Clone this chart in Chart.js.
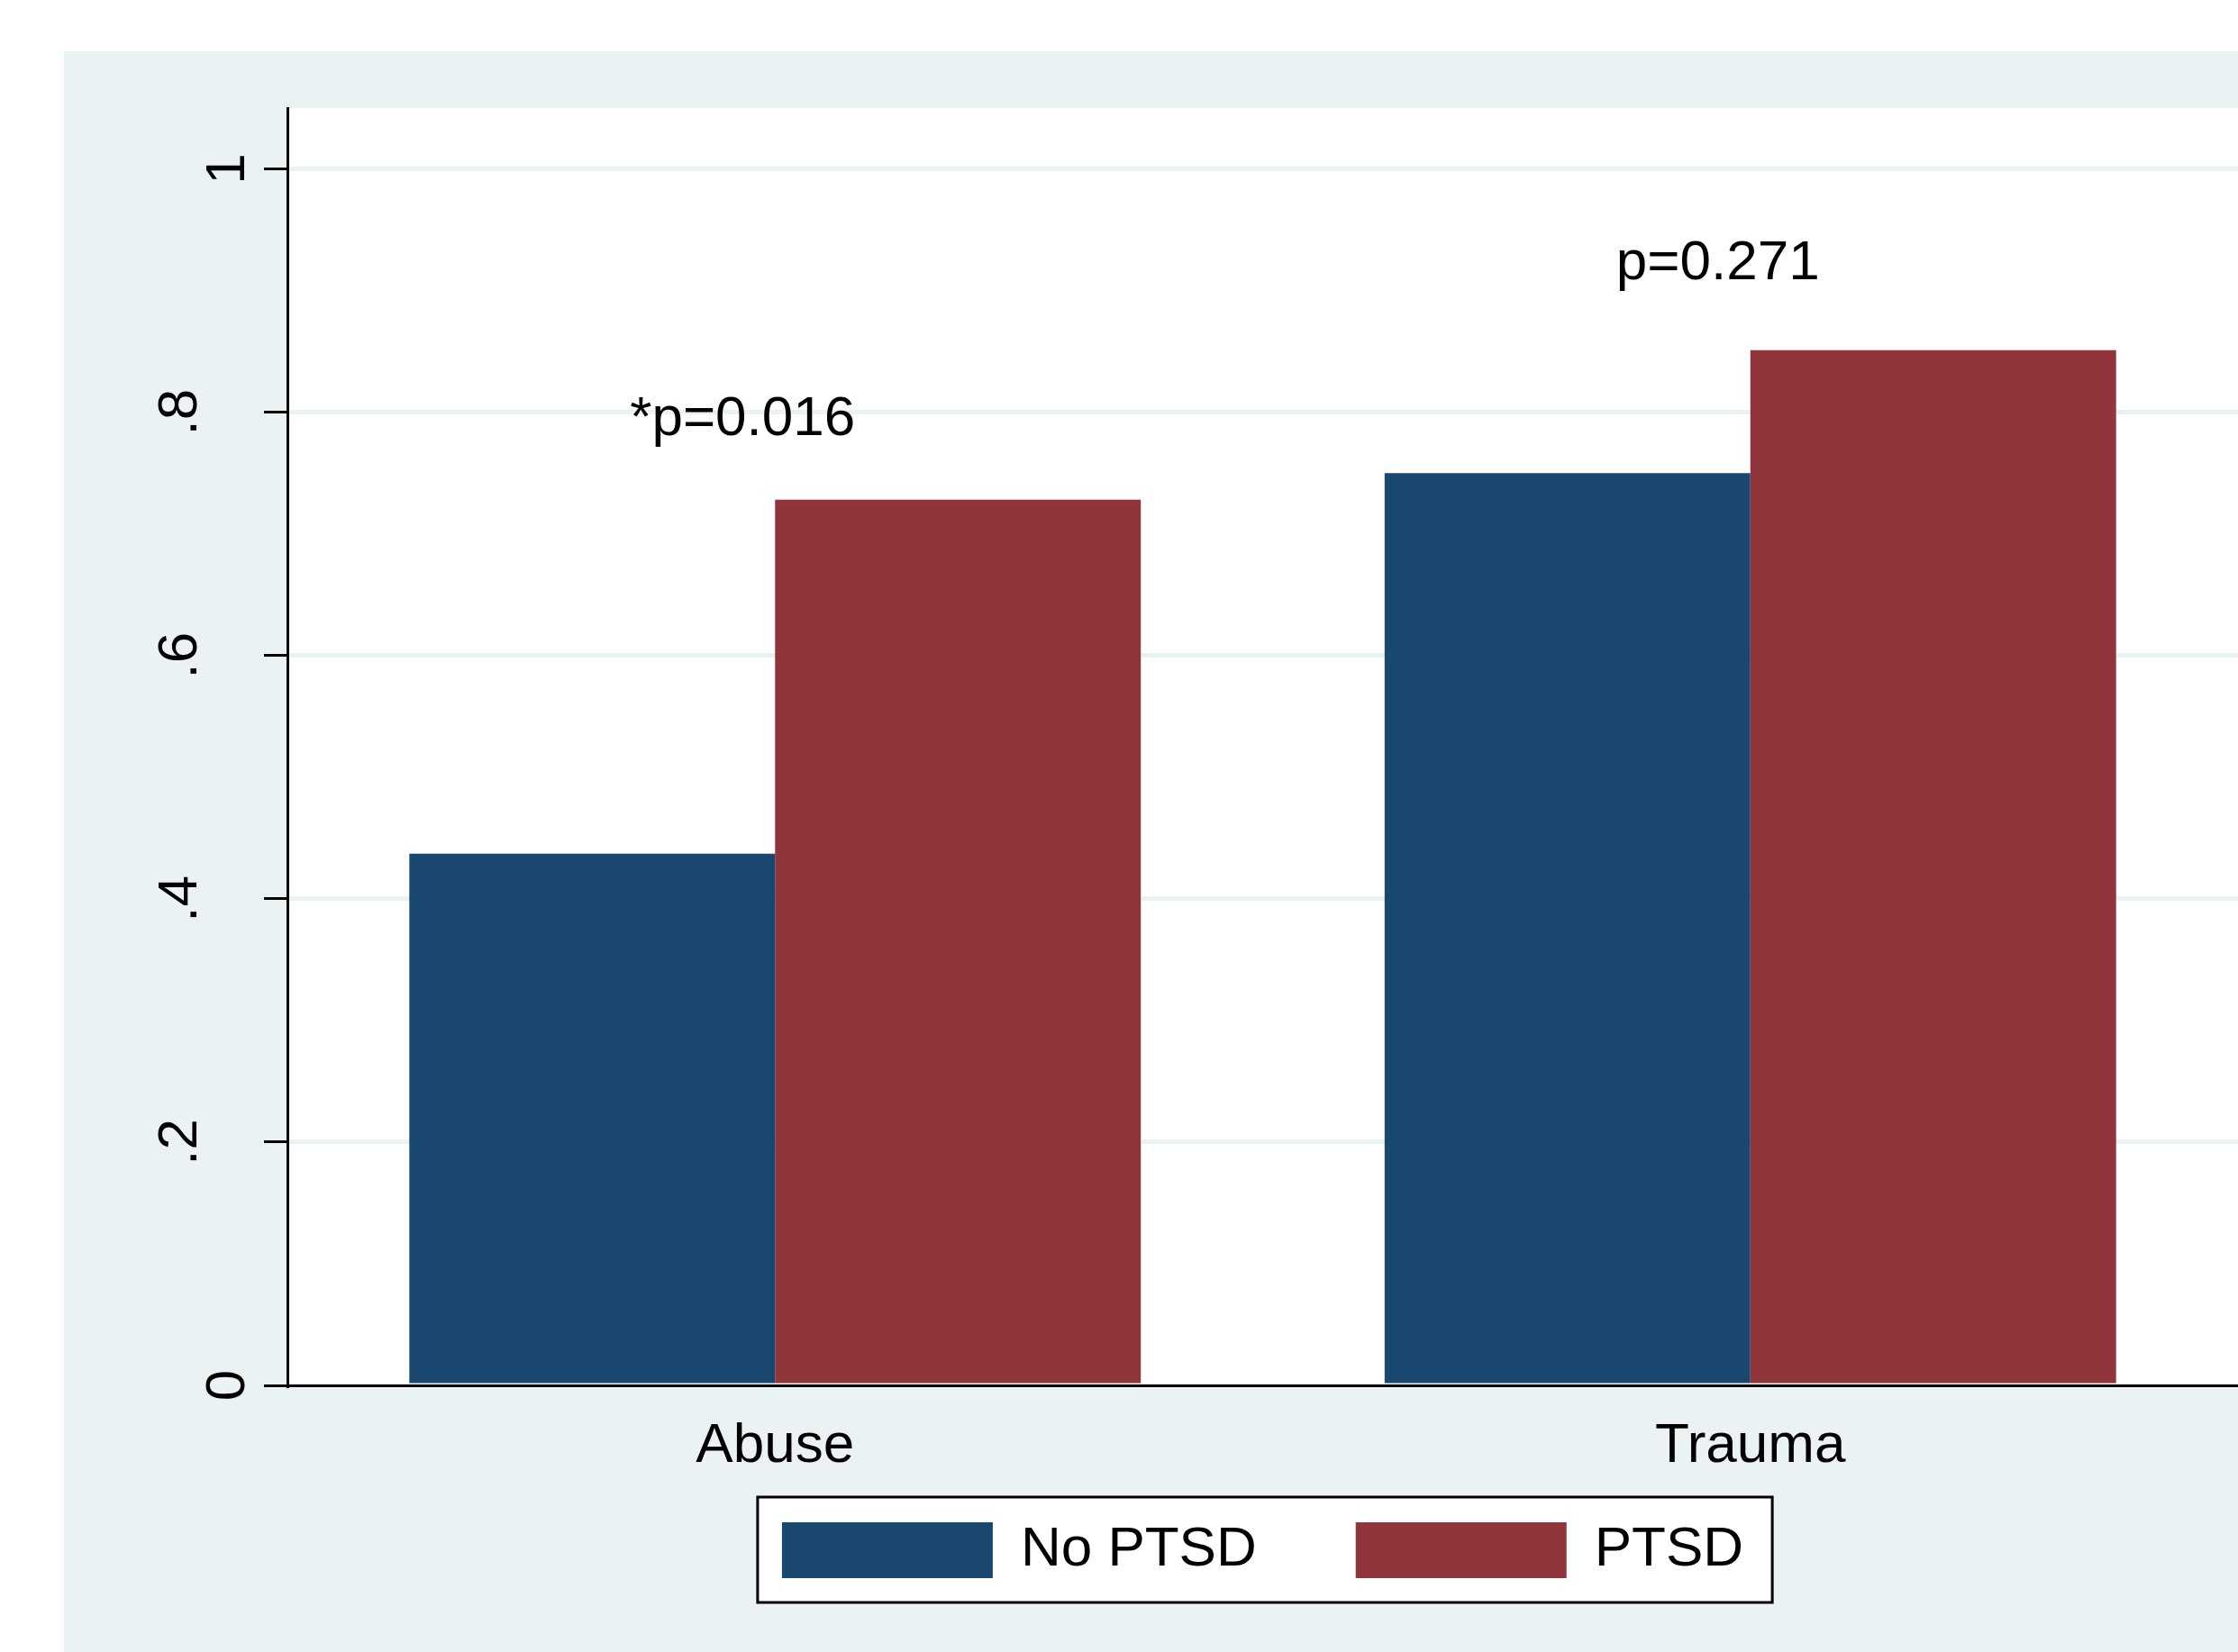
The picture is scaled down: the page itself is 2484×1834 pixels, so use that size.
<!DOCTYPE html>
<html>
<head>
<meta charset="utf-8">
<script src="https://cdn.jsdelivr.net/npm/chart.js@4.4.1/dist/chart.umd.min.js"></script>
<style>
  html, body { margin: 0; padding: 0; background: #fff; }
  #wrap { width: 2484px; height: 1834px; position: relative; }
</style>
</head>
<body>
<div id="wrap"><canvas id="chart"></canvas></div>
<script>
// data
const categories = ['Abuse', 'Trauma'];
const seriesNames = ['No PTSD', 'PTSD'];
const noPtsd = [0.437, 0.750];
const ptsd = [0.728, 0.851];
const yTicks = [0, 0.2, 0.4, 0.6, 0.8, 1];
const yTickLabels = ['0', '.2', '.4', '.6', '.8', '1'];
const pLabels = ['*p=0.016', 'p=0.271'];
const pLabelY = [0.781, 0.909];

const FONT = '"Liberation Sans", Arial, Helvetica, sans-serif';
const NAVY = '#1a476f', MAROON = '#90353b', PALE = '#eaf2f3';

// stata-ish backdrop: pale outer panel, white plot region, boxed legend
const backdrop = {
  id: 'backdrop',
  beforeDraw(chart) {
    const { ctx, width, height, chartArea: ca } = chart;
    ctx.save();
    ctx.fillStyle = '#fff';
    ctx.fillRect(0, 0, width, height);
    ctx.fillStyle = PALE;
    ctx.fillRect(71, 57, width - 71, height - 57);
    ctx.fillStyle = '#fff';
    ctx.fillRect(ca.left, ca.top, ca.right - ca.left, ca.bottom - ca.top);

    const hb = chart.legend.legendHitBoxes;
    const first = hb[0], last = hb[hb.length - 1];
    const x0 = first.left - 27, x1 = last.left + last.width + 32;
    const y0 = first.top - 28, y1 = first.top + first.height + 27;
    ctx.fillStyle = '#fff';
    ctx.fillRect(x0, y0, x1 - x0, y1 - y0);
    ctx.strokeStyle = '#000';
    ctx.lineWidth = 3;
    ctx.strokeRect(x0, y0, x1 - x0, y1 - y0);
    ctx.restore();
  }
};

// axis labels drawn by hand: rotated y labels (dotted ones sit further out,
// like the original) and category names under the x axis
const axisLabels = {
  id: 'axisLabels',
  afterDraw(chart) {
    const { ctx } = chart;
    const xs = chart.scales.x, ys = chart.scales.y;
    ctx.save();
    ctx.font = `62px ${FONT}`;
    ctx.fillStyle = '#000';
    ctx.textAlign = 'center';
    ctx.textBaseline = 'alphabetic';
    yTicks.forEach((v, i) => {
      const label = yTickLabels[i];
      const x = ys.right - 26 - 22 - (label.startsWith('.') ? 53 : 0);
      ctx.save();
      ctx.translate(x, ys.getPixelForValue(v));
      ctx.rotate(-Math.PI / 2);
      ctx.fillText(label, 0, 0);
      ctx.restore();
    });
    categories.forEach((c, i) => {
      ctx.fillText(c, xs.getPixelForValue(i), xs.top + 85);
    });
    ctx.restore();
  }
};

// p-value notes above each group
const pNotes = {
  id: 'pNotes',
  afterDatasetsDraw(chart) {
    const { ctx } = chart;
    const xs = chart.scales.x, ys = chart.scales.y;
    ctx.save();
    ctx.font = `62px ${FONT}`;
    ctx.fillStyle = '#000';
    ctx.textAlign = 'center';
    ctx.textBaseline = 'alphabetic';
    pLabels.forEach((t, i) => {
      ctx.fillText(t, xs.getPixelForValue(i) - 36, ys.getPixelForValue(pLabelY[i]));
    });
    ctx.restore();
  }
};

new Chart(document.getElementById('chart'), {
  type: 'bar',
  data: {
    labels: categories,
    datasets: [
      { label: seriesNames[0], data: noPtsd, backgroundColor: NAVY, borderWidth: 0 },
      { label: seriesNames[1], data: ptsd, backgroundColor: MAROON, borderWidth: 0 }
    ]
  },
  options: {
    responsive: true,
    maintainAspectRatio: false,
    animation: false,
    devicePixelRatio: 1,
    datasets: { bar: { categoryPercentage: 0.75, barPercentage: 1.0 } },
    layout: { padding: { top: 120, right: 0, bottom: 72, left: 0 } },
    plugins: {
      tooltip: { enabled: false },
      legend: {
        position: 'bottom',
        fullSize: false,
        align: 'center',
        labels: {
          boxWidth: 234,
          boxHeight: 62,
          padding: 110,
          color: '#000',
          font: { family: FONT, size: 62 }
        }
      }
    },
    scales: {
      x: {
        z: 1,
        offset: true,
        grid: { display: false, drawTicks: false },
        border: { display: true, color: '#000', width: 3 },
        ticks: { display: false },
        afterFit(s) { s.height = 42; }
      },
      y: {
        min: 0,
        max: 1.05,
        afterBuildTicks(s) { s.ticks = yTicks.map(v => ({ value: v })); },
        grid: { color: PALE, lineWidth: 5, drawTicks: true, tickLength: 26, tickColor: '#000', tickWidth: 3 },
        border: { display: true, color: '#000', width: 3 },
        ticks: { display: false },
        afterFit(s) { s.width = 319; }
      }
    }
  },
  plugins: [backdrop, axisLabels, pNotes]
});
</script>
</body>
</html>
